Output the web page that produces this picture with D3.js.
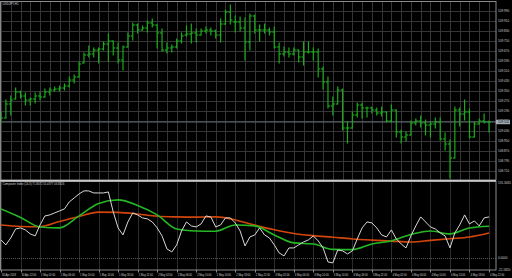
<!DOCTYPE html>
<html>
<head>
<meta charset="utf-8">
<script src="https://cdn.jsdelivr.net/npm/d3@7"></script>
<style>
  html, body { margin: 0; padding: 0; background: #000; overflow: hidden; }
  text { font-family: "Liberation Sans", Arial, sans-serif; }
</style>
</head>
<body>
<svg id="chart" width="512" height="278"></svg>
<script>
// USDJPY H1, 30 Apr 18:00 -> 4 May 22:00 (one bar per hour)
const opens = [109.110,109.134,109.246,109.286,109.342,109.310,109.278,109.286,109.310,109.302,
  109.342,109.358,109.366,109.374,109.390,109.438,109.462,109.574,109.638,109.646,
  109.678,109.686,109.726,109.750,109.694,109.598,109.702,109.790,109.878,109.838,
  109.854,109.894,109.878,109.814,109.678,109.694,109.702,109.750,109.798,109.806,
  109.814,109.798,109.830,109.838,109.830,109.798,109.886,109.982,109.902,109.902,
  109.854,109.742,109.950,109.838,109.838,109.838,109.822,109.702,109.646,109.662,
  109.646,109.678,109.622,109.662,109.662,109.662,109.526,109.422,109.230,109.246,
  109.358,109.054,109.054,109.158,109.238,109.214,109.214,109.198,109.174,109.182,
  109.110,109.198,109.022,108.982,108.998,109.094,109.110,109.094,109.078,109.086,
  109.102,108.966,108.926,108.814,109.198,109.166,109.182,108.982,109.086,109.110,
  109.102];
const highs = [109.182,109.278,109.310,109.374,109.350,109.334,109.294,109.334,109.342,109.366,
  109.374,109.382,109.390,109.406,109.462,109.478,109.582,109.654,109.710,109.694,
  109.694,109.742,109.806,109.750,109.734,109.710,109.814,109.894,109.886,109.870,
  109.910,109.926,109.878,109.846,109.734,109.718,109.766,109.814,109.870,109.886,
  109.846,109.846,109.862,109.854,109.838,109.926,109.998,110.038,109.950,109.942,
  109.934,109.966,109.958,109.878,109.886,109.854,109.862,109.734,109.702,109.694,
  109.694,109.678,109.742,109.742,109.694,109.686,109.542,109.462,109.302,109.382,
  109.366,109.102,109.182,109.254,109.254,109.222,109.222,109.214,109.222,109.182,
  109.238,109.198,109.038,109.022,109.110,109.126,109.150,109.118,109.102,109.134,
  109.134,109.014,108.958,109.222,109.214,109.278,109.206,109.102,109.126,109.166,
  109.110];
const lows = [109.102,109.134,109.158,109.286,109.294,109.238,109.238,109.254,109.278,109.302,
  109.318,109.350,109.350,109.358,109.382,109.414,109.462,109.574,109.622,109.622,
  109.574,109.678,109.590,109.638,109.574,109.518,109.702,109.758,109.814,109.838,
  109.822,109.862,109.694,109.670,109.654,109.662,109.694,109.734,109.790,109.734,
  109.742,109.798,109.814,109.798,109.774,109.742,109.886,109.886,109.822,109.830,
  109.598,109.678,109.814,109.750,109.814,109.798,109.694,109.574,109.630,109.622,
  109.638,109.582,109.558,109.654,109.598,109.462,109.366,109.214,109.158,109.246,
  109.038,108.934,109.054,109.142,109.134,109.142,109.174,109.158,109.150,109.102,
  109.102,108.982,108.934,108.950,108.998,109.078,109.062,108.998,108.982,109.054,
  108.958,108.878,108.654,108.814,109.070,109.118,108.974,108.982,109.086,109.094,
  109.022];
const closes = [109.134,109.246,109.278,109.342,109.310,109.278,109.286,109.310,109.302,109.342,
  109.358,109.366,109.374,109.390,109.438,109.462,109.566,109.638,109.646,109.678,
  109.686,109.726,109.750,109.694,109.598,109.702,109.790,109.878,109.838,109.854,
  109.894,109.878,109.814,109.678,109.694,109.702,109.750,109.790,109.806,109.814,
  109.798,109.830,109.838,109.830,109.798,109.886,109.982,109.918,109.902,109.854,
  109.742,109.950,109.838,109.838,109.838,109.822,109.702,109.646,109.662,109.646,
  109.678,109.622,109.662,109.662,109.662,109.526,109.422,109.230,109.246,109.358,
  109.054,109.054,109.158,109.238,109.214,109.214,109.198,109.174,109.182,109.110,
  109.198,109.022,108.982,108.998,109.094,109.110,109.094,109.078,109.086,109.102,
  108.966,108.926,108.814,109.198,109.166,109.182,108.982,109.086,109.110,109.102,
  109.102];

// Composite index, one value per bar
const composite = [31.6,22.8,35.1,50.8,52.6,49.1,42.1,38.6,57.8,73.6,
  75.4,78.9,82.4,85.9,98.2,105.2,112.2,117.5,117.5,113.9,
  113.9,113.9,115.7,80.6,52.6,40.3,63.1,78.9,75.4,70.1,
  68.4,63.1,52.6,38.6,15.8,10.5,22.8,47.3,63.1,56.1,
  54.3,59.6,73.6,71.9,54.3,57.8,70.1,70.1,61.4,47.3,
  21.0,36.8,40.3,52.6,40.3,35.1,22.8,8.8,3.5,17.5,
  17.5,22.8,28.0,31.6,38.6,29.8,17.5,-7.0,-8.8,14.0,
  12.3,7.0,12.3,33.3,52.6,63.1,61.4,52.6,40.3,36.8,
  49.1,33.3,24.5,17.5,38.6,56.1,71.9,63.1,54.3,50.8,
  43.8,38.6,17.5,43.8,57.8,75.4,59.6,64.9,56.1,70.1,
  71.9];
// averages read every 4 bars
const maStep = 4;
const fastMA = [85.9,71.0,54.3,52.6,73.6,95.5,101.7,92.0,75.4,50.8,47.3,46.8,57.8,
  56.1,40.3,26.3,24.5,14.9,14.5,24.5,29.8,41.2,47.3,42.1,52.6,55.6];
const slowMA = [57.8,55.2,54.7,64.0,72.7,80.3,79.8,77.1,73.1,71.9,71.5,71.9,66.6,
  57.5,49.4,42.9,39.1,36.3,33.3,31.2,29.5,28.0,30.7,33.7,36.8,43.8];

const priceTicks = [109.990,109.910,109.830,109.750,109.670,109.590,109.510,109.430,109.350,
  109.270,109.190,109.110,109.030,108.950,108.870,108.790,108.710];
const bidPrice = 109.102;
const indTicks = [131.3465, 0, -21.1820];
const indTickLabels = ["131.3465", "0.0000", "-21.1820"];
const timeLabels = ["30 Apr 2018","30 Apr 22:00","1 May 02:00","1 May 06:00","1 May 10:00",
  "1 May 14:00","1 May 18:00","1 May 22:00","2 May 02:00","2 May 06:00","2 May 10:00",
  "2 May 14:00","2 May 18:00","2 May 22:00","3 May 02:00","3 May 06:00","3 May 10:00",
  "3 May 14:00","3 May 18:00","3 May 22:00","4 May 02:00","4 May 06:00","4 May 10:00",
  "4 May 14:00","4 May 18:00","4 May 22:00"];
const labelStep = 4;

const plotR = 496, mainTop = 2, mainBot = 180, indTop = 182, indBot = 270;

const svg = d3.select('#chart');
svg.append('rect').attr('width', 512).attr('height', 278).attr('fill', '#000');

const x = d3.scaleLinear().domain([0, closes.length - 1]).range([1, 489]);
const yP = d3.scaleLinear().domain([108.638, 110.046]).range([180, 4]);
const yI = d3.scaleLinear().domain([-21.182, 131.3465]).range([270, 183]);

const defs = svg.append('defs');
defs.append('clipPath').attr('id', 'clipMain')
  .append('rect').attr('x', 1).attr('y', mainTop).attr('width', plotR - 1).attr('height', mainBot - mainTop);
defs.append('clipPath').attr('id', 'clipInd')
  .append('rect').attr('x', 1).attr('y', indTop).attr('width', plotR - 1).attr('height', indBot - indTop);

// grid - main panel
const grid = svg.append('g').attr('stroke', '#363636').attr('stroke-width', 1);
grid.selectAll('line.h').data(priceTicks).join('line')
  .attr('x1', 1).attr('x2', plotR)
  .attr('y1', d => Math.round(yP(d)) + 0.5).attr('y2', d => Math.round(yP(d)) + 0.5);
grid.selectAll('line.v').data(d3.range(0, closes.length, 2)).join('line')
  .attr('x1', d => Math.round(x(d)) + 0.5).attr('x2', d => Math.round(x(d)) + 0.5)
  .attr('y1', mainTop).attr('y2', mainBot);

// grid - indicator panel
const gridI = svg.append('g').attr('stroke', '#2c2c2c').attr('stroke-width', 1);
gridI.selectAll('line').data(d3.range(0, closes.length, labelStep)).join('line')
  .attr('x1', d => Math.round(x(d)) + 0.5).attr('x2', d => Math.round(x(d)) + 0.5)
  .attr('y1', indTop).attr('y2', indBot);
svg.append('line')
  .attr('x1', 1).attr('x2', plotR)
  .attr('y1', Math.round(yI(0)) + 0.5).attr('y2', Math.round(yI(0)) + 0.5)
  .attr('stroke', '#555').attr('stroke-dasharray', '1,1');

// bid line
svg.append('line')
  .attr('x1', 1).attr('x2', plotR)
  .attr('y1', yP(bidPrice)).attr('y2', yP(bidPrice))
  .attr('stroke', '#5c6670').attr('stroke-width', 1);

// OHLC bars
const bars = svg.append('g').attr('clip-path', 'url(#clipMain)')
  .attr('stroke', '#1aaa1a').attr('stroke-width', 1.2);
const barG = bars.selectAll('g').data(closes.map((c, i) => ({i, o: opens[i], h: highs[i], l: lows[i], c})))
  .join('g');
barG.append('line')
  .attr('x1', d => x(d.i)).attr('x2', d => x(d.i))
  .attr('y1', d => yP(d.h) - 0.5).attr('y2', d => yP(d.l) + 0.5);
barG.append('line')
  .attr('x1', d => x(d.i) - 2).attr('x2', d => x(d.i))
  .attr('y1', d => yP(d.o)).attr('y2', d => yP(d.o));
barG.append('line')
  .attr('x1', d => x(d.i)).attr('x2', d => x(d.i) + 2)
  .attr('y1', d => yP(d.c)).attr('y2', d => yP(d.c));

// indicator lines
const ind = svg.append('g').attr('clip-path', 'url(#clipInd)').attr('fill', 'none');
const maLine = d3.line().x((d, i) => x(i * maStep)).y(d => yI(d)).curve(d3.curveMonotoneX);
ind.append('path').datum(slowMA).attr('d', maLine)
  .attr('stroke', '#d2460c').attr('stroke-width', 1.6);
ind.append('path').datum(fastMA).attr('d', maLine)
  .attr('stroke', '#25b825').attr('stroke-width', 1.6);
ind.append('path').datum(composite)
  .attr('d', d3.line().x((d, i) => x(i)).y(d => yI(d)))
  .attr('stroke', '#d8d8d8').attr('stroke-width', 1);

// frames
const frame = svg.append('g').attr('fill', 'none');
frame.append('rect').attr('x', 0.5).attr('y', 1.5).attr('width', plotR - 0.5).attr('height', mainBot - 1.5)
  .attr('stroke', '#8a8a8a');
frame.append('rect').attr('x', 0.5).attr('y', indTop - 0.5).attr('width', plotR - 0.5).attr('height', indBot - indTop + 0.5)
  .attr('stroke', '#8a8a8a');
frame.append('line').attr('x1', 0).attr('x2', plotR).attr('y1', 180.8).attr('y2', 180.8)
  .attr('stroke', '#c8c8c8').attr('stroke-width', 1.4);

// price axis labels
const axisTxt = svg.append('g').attr('fill', '#d0d0d0').attr('font-size', 3.1);
axisTxt.selectAll('text.p').data(priceTicks).join('text')
  .attr('x', plotR + 2).attr('y', d => yP(d)).attr('dy', '0.35em')
  .text(d => d.toFixed(3));
axisTxt.selectAll('text.i').data(indTicks).join('text')
  .attr('x', plotR + 2).attr('y', d => yI(d)).attr('dy', '0.35em')
  .text((d, i) => indTickLabels[i]);
svg.append('rect')
  .attr('x', plotR).attr('y', yP(bidPrice) - 2.2).attr('width', 14).attr('height', 4.4)
  .attr('fill', '#a4aebb');
svg.append('text')
  .attr('x', plotR + 2).attr('y', yP(bidPrice)).attr('dy', '0.35em')
  .attr('font-size', 3.1).attr('fill', '#000')
  .text(bidPrice.toFixed(3));

// time axis
const timeG = svg.append('g');
timeG.selectAll('line').data(timeLabels).join('line')
  .attr('x1', (d, k) => Math.round(x(k * labelStep)) + 0.5).attr('x2', (d, k) => Math.round(x(k * labelStep)) + 0.5)
  .attr('y1', indBot).attr('y2', indBot + 2.5)
  .attr('stroke', '#8a8a8a');
timeG.selectAll('text').data(timeLabels).join('text')
  .attr('x', (d, k) => x(k * labelStep) + 1).attr('y', 275.5)
  .attr('font-size', 2.6).attr('fill', '#d0d0d0')
  .text(d => d);

// titles
svg.append('text').attr('x', 2.5).attr('y', 5.2).attr('font-size', 3)
  .attr('fill', '#d0d0d0').text('USDJPY,H1');
svg.append('text').attr('x', 2.5).attr('y', 185).attr('font-size', 2.8)
  .attr('fill', '#d0d0d0').text('Composite Index (14,3) 71.8072 55.4377 43.8326');
</script>
</body>
</html>
